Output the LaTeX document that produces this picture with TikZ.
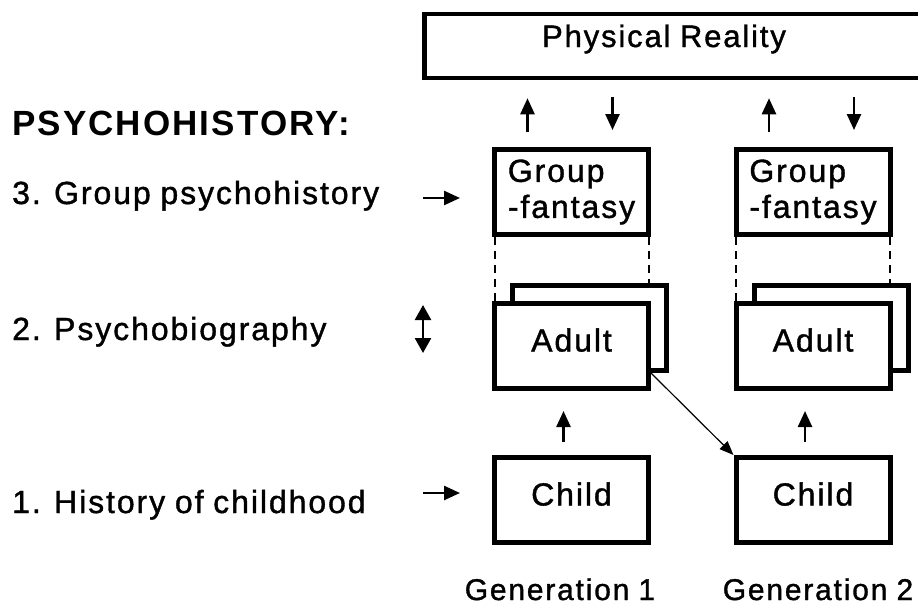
\documentclass[tikz,border=0pt]{standalone}
\usepackage{fontspec}
\setmainfont{Liberation Sans}[LetterSpace=6,WordSpace=0.9,UprightFeatures={FakeBold=1.2}]
\usepackage{tikz}
\usetikzlibrary{arrows.meta,positioning,calc}

\begin{document}
\begin{tikzpicture}[x=1pt,y=-1pt,
    box/.style={draw,fill=white,line width=5pt,minimum width=154pt,minimum height=85pt,inner sep=0pt,font=\fontsize{32}{36}\selectfont},
    txtbox/.style={box,text height=23pt,text depth=12pt},
    groupbox/.style={box,align=left},
    lbl/.style={inner sep=0pt,font=\fontsize{32}{36}\selectfont},
    arr/.style={line width=2.5pt,-{Triangle[width=14pt,length=16pt]}},
    dual/.style={line width=2.5pt,{Triangle[width=16pt,length=15pt]}-{Triangle[width=16pt,length=15pt]}},
    thinarr/.style={line width=1.2pt,-{Triangle[width=11pt,length=14pt]}},
    dashline/.style={line width=2pt,dash pattern=on 8pt off 6pt}]
    \clip (0,0) rectangle (918,605);

    % Physical reality
    \node[draw,line width=4.5pt,minimum width=515pt,minimum height=64pt] (phys) at (682,46) {};
    \node[lbl,anchor=base,font=\fontsize{31}{36}\selectfont] (physlbl) at (664,47) {Physical Reality};

    % Levels
    \node[lbl,anchor=base west,font=\bfseries\fontsize{35}{40}\selectfont] (title) at (12,135) {PSYCHOHISTORY:};
    \node[lbl,anchor=base west] (lvl3) at (12,204) {3. Group psychohistory};
    \node[lbl,anchor=base west] (lvl2) at (12,340) {2. Psychobiography};
    \node[lbl,anchor=base west] (lvl1) at (12,513) {1. History of childhood};

    % Generations
    \foreach \g/\x/\gx in {1/571.5/560,2/813/818} {
        \node[groupbox] (group\g) at (\x,192) {Group\\-fantasy};
        \draw[dashline] ([xshift=2.5pt]group\g.south west) -- +(0,110);
        \draw[dashline] ([xshift=-2.5pt]group\g.south east) -- +(0,110);
        \node[box] (adultb\g) at (\x+18,328) {};
        \node[txtbox] (adult\g) at (\x,346) {Adult};
        \node[txtbox] (child\g) at (\x,500) {Child};
        \node[lbl,anchor=base,font=\fontsize{30}{36}\selectfont] (gen\g) at (\gx,600) {Generation \g};
        \draw[arr,shorten <=13pt,shorten >=20pt] ([xshift=-8pt]child\g.north) -- ([xshift=-8pt]adult\g.south);
        \draw[arr,shorten <=15pt,shorten >=18pt] ([xshift=-44pt]group\g.north) -- ([xshift=-44pt]group\g.north |- phys.south);
        \draw[arr,shorten <=17pt,shorten >=17pt] ([xshift=41pt]group\g.north |- phys.south) -- ([xshift=41pt]group\g.north);
    }

    % Level arrows
    \coordinate (t3) at (423,198);
    \coordinate (t2a) at (423,305);
    \coordinate (t2b) at (423,353);
    \coordinate (t1) at (423,493);
    \draw[arr,shorten >=32pt] (t3) -- (t3 -| group1.west);
    \draw[dual] (t2a) -- (t2b);
    \draw[arr,shorten >=32pt] (t1) -- (t1 -| child1.west);

    % Adult to next child
    \draw[thinarr] (adult1.east |- adultb1.south) -- (child2.north west);
\end{tikzpicture}
\end{document}
